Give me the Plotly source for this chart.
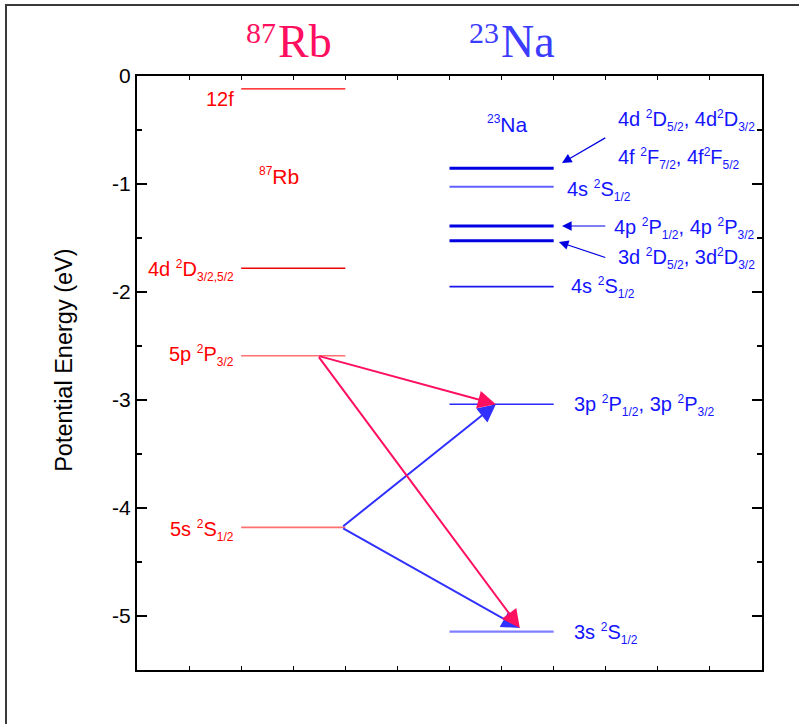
import plotly.graph_objects as go

SUBSZ = 12


def sp(s):
    return f'<sup><span style="font-size:{SUBSZ}px">{s}</span></sup>'


def sb(s):
    return f'<sub><span style="font-size:{SUBSZ}px">{s}</span></sub>'


# ---------------- data ----------------
rb_x = [2, 4]          # column of Rb levels
na_x = [6, 8]          # column of Na levels

rb_energy = [-0.12, -1.78, -2.59, -4.18]
rb_labels = ["12f",
             "4d " + sp("2") + "D" + sb("3/2,5/2"),
             "5p " + sp("2") + "P" + sb("3/2"),
             "5s " + sp("2") + "S" + sb("1/2")]
rb_colors = ["#ff0000", "#ee0000", "#ff7070", "#ff7070"]
rb_widths = [1.2, 1.6, 1.6, 1.8]
rb_label_dy = [-0.09, -0.02, 0.0, -0.03]

na_energy = [-0.855, -1.025, -1.389, -1.525, -1.95, -3.04, -5.145]
na_colors = ["#0000e0", "#6060ff", "#0000e0", "#0000e0", "#1818ee", "#2828ff", "#8080ff"]
na_widths = [3, 2, 3, 3, 1.6, 1.6, 2.2]

na_text = ["4d " + sp("2") + "D" + sb("5/2") + ", 4d" + sp("2") + "D" + sb("3/2"),
           "4f " + sp("2") + "F" + sb("7/2") + ", 4f" + sp("2") + "F" + sb("5/2"),
           "4s " + sp("2") + "S" + sb("1/2"),
           "4p " + sp("2") + "P" + sb("1/2") + ", 4p " + sp("2") + "P" + sb("3/2"),
           "3d " + sp("2") + "D" + sb("5/2") + ", 3d" + sp("2") + "D" + sb("3/2"),
           "4s " + sp("2") + "S" + sb("1/2"),
           "3p " + sp("2") + "P" + sb("1/2") + ", 3p " + sp("2") + "P" + sb("3/2"),
           "3s " + sp("2") + "S" + sb("1/2")]
na_text_x = [9.2, 9.2, 8.22, 9.12, 9.2, 8.3, 8.35, 8.35]
na_text_y = [-0.41, -0.76, -1.06, -1.41, -1.69, -1.96, -3.05, -5.16]

# transitions (tail -> tip)
pink_tail = (3.47, -2.59)
blue_tail = (3.93, -4.18)
tips = [(6.89, -3.04), (7.35, -5.11)]

# pointer arrows for Na labels (tail -> tip)
ptr_tail_x = [9.02, 9.02, 9.02]
ptr_tail_y = [-0.565, -1.389, -1.685]
ptr_tip_x = [8.16, 8.16, 8.10]
ptr_tip_y = [-0.805, -1.389, -1.537]

yticks = [0, -1, -2, -3, -4, -5]

SANS = "Liberation Sans, Arial, sans-serif"
SERIF = "Liberation Serif, Times New Roman, serif"
PINK = "#ff0f60"
BLUE_T = "#3c3cff"
LBL = 20

fig = go.Figure()

for e, c, w in zip(rb_energy, rb_colors, rb_widths):
    fig.add_trace(go.Scatter(x=rb_x, y=[e, e], mode="lines",
                             line=dict(color=c, width=w), showlegend=False, hoverinfo="skip"))
for e, c, w in zip(na_energy, na_colors, na_widths):
    fig.add_trace(go.Scatter(x=na_x, y=[e, e], mode="lines",
                             line=dict(color=c, width=w), showlegend=False, hoverinfo="skip"))

ann = []
# Rb labels
for e, t, dy in zip(rb_energy, rb_labels, rb_label_dy):
    ann.append(dict(x=rb_x[0] - 0.09, y=e + dy, text=t, showarrow=False, xanchor="right",
                    yanchor="middle", font=dict(family=SANS, size=LBL, color="#ff0000")))
# Na labels
for t, x, y in zip(na_text, na_text_x, na_text_y):
    ann.append(dict(x=x, y=y, text=t, showarrow=False, xanchor="left", yanchor="middle",
                    font=dict(family=SANS, size=LBL, color="#1414ff")))

# inner element labels
ann.append(dict(x=2.72, y=-0.93, text=sp("87") + "Rb", showarrow=False,
                font=dict(family=SANS, size=21, color="#ff0000")))
ann.append(dict(x=7.12, y=-0.44, text=sp("23") + "Na", showarrow=False,
                font=dict(family=SANS, size=21, color="#1414ff")))

# titles above the frame (mass number + symbol)
for txt, x, y, sz, col in [("87", 2.39, 1.0724, 30, PINK), ("Rb", 3.235, 1.0581, 46, PINK),
                           ("23", 6.66, 1.0724, 30, BLUE_T), ("Na", 7.51, 1.0581, 46, BLUE_T)]:
    ann.append(dict(x=x, xref="x", y=y, yref="paper", text=txt, showarrow=False,
                    xanchor="center", yanchor="middle",
                    font=dict(family=SERIF, size=sz, color=col)))

# axis title
ann.append(dict(x=-0.117, xref="paper", y=0.522, yref="paper", text="Potential Energy (eV)",
                textangle=-90, showarrow=False, xanchor="center", yanchor="middle",
                font=dict(family=SANS, size=23.5, color="black")))

# transition arrows (blue first, pink on top)
for tail, col in [(blue_tail, "#3030ff"), (pink_tail, PINK)]:
    for tx, ty in tips:
        ann.append(dict(x=tx, y=ty, ax=tail[0], ay=tail[1], xref="x", yref="y",
                        axref="x", ayref="y", text="", showarrow=True, arrowhead=2,
                        arrowsize=1.8, arrowwidth=2, arrowcolor=col, standoff=0))

# pointer arrows
for x0, y0, x1, y1 in zip(ptr_tail_x, ptr_tail_y, ptr_tip_x, ptr_tip_y):
    ann.append(dict(x=x1, y=y1, ax=x0, ay=y0, xref="x", yref="y", axref="x", ayref="y",
                    text="", showarrow=True, arrowhead=2, arrowsize=1.6, arrowwidth=1.2,
                    arrowcolor="#0000e0", standoff=0))

shapes = [dict(type="rect", xref="paper", yref="paper", x0=-0.2096, x1=1.2, y0=-0.2, y1=1.1195,
               line=dict(color="#3a3a3a", width=2), fillcolor="rgba(0,0,0,0)", layer="above")]

fig.update_layout(
    width=799, height=724,
    margin=dict(l=137, r=37, t=76, b=54),
    paper_bgcolor="white", plot_bgcolor="white",
    annotations=ann, shapes=shapes,
    xaxis=dict(range=[0, 12], showgrid=False, zeroline=False, showticklabels=False,
               ticks="inside", dtick=1, tick0=0, ticklen=4, tickwidth=1, tickcolor="black",
               showline=True, linewidth=2, linecolor="black", mirror="ticks"),
    yaxis=dict(range=[-5.5, 0], showgrid=False, zeroline=False,
               tickmode="array", tickvals=yticks, ticktext=[str(v) for v in yticks],
               ticks="inside", ticklen=10, tickwidth=2, tickcolor="black",
               minor=dict(dtick=0.5, tick0=0, ticks="inside", ticklen=5, tickwidth=2, tickcolor="black"),
               showline=True, linewidth=2, linecolor="black", mirror="ticks",
               tickfont=dict(family=SANS, size=21, color="black")),
    showlegend=False,
)

fig.write_html("out.html")
